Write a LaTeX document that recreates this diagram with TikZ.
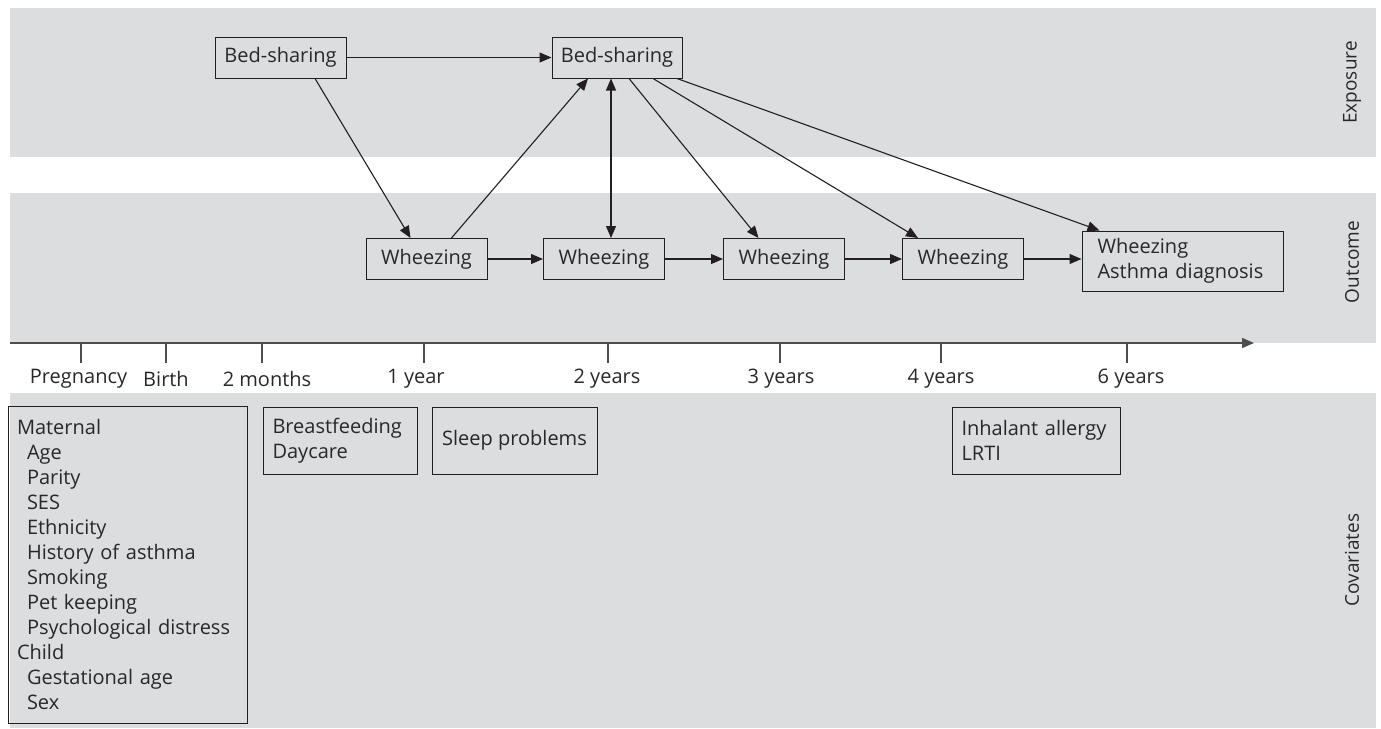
\documentclass[tikz,border=0pt]{standalone}
\usepackage{fontspec}
\setmainfont{Open Sans}
\usepackage{xcolor}
\usepackage{tikz}
\usetikzlibrary{arrows.meta}
\definecolor{bandgray}{RGB}{220, 221, 223}
\definecolor{inkgray}{RGB}{35, 31, 32}
\definecolor{textgray}{RGB}{40, 40, 40}

\begin{document}
\begin{tikzpicture}[x=1pt, y=-1pt, >={Triangle[length=12pt, width=10pt]},
    box/.style={draw=inkgray, line width=1pt, text=textgray, inner sep=0pt, font=\fontsize{20}{25}\selectfont},
    wbox/.style={box, minimum width=121pt, minimum height=41pt},
    listbox/.style={box, align=left},
    arr/.style={->, inkgray, line width=1.1pt},
    axislabel/.style={text=textgray, font=\fontsize{20}{25}\selectfont},
    sidelabel/.style={text=textgray, rotate=90, font=\fontsize{19}{22}\selectfont}]
    \useasboundingbox (0,0) rectangle (1381,728);
    \fill[bandgray] (10,8) rectangle (1376,157);
    \fill[bandgray] (10,193) rectangle (1376,343);
    \fill[bandgray] (10,393) rectangle (1376,728);

    \node[sidelabel] (lexposure) at (1352,82.5) {Exposure};
    \node[sidelabel] (loutcome) at (1352,262) {Outcome};
    \node[sidelabel] (lcovariates) at (1352,560) {Covariates};

    \coordinate (axstart) at (10,343);
    \coordinate (axend) at (1254,343);
    \draw[->, inkgray!80, line width=1.6pt] (axstart) -- (axend);
    \foreach \x/\lx/\t [count=\i] in {81/78.5/Pregnancy, 166/166/Birth, 262/267/2 months, 424/416/1 year, 608/607/2 years, 780/781/3 years, 941/941/4 years, 1127/1131/6 years} {
        \coordinate (tick\i) at (\x,343);
        \draw[inkgray!80, line width=1.3pt] (tick\i) -- ++(0,20);
        \node[axislabel] (lab\i) at (\lx,379) {\t};
    }

    \node[box, minimum width=131pt, minimum height=41pt] (bs1) at (280.5,57.5) {Bed-sharing};
    \node[box, minimum width=130pt, minimum height=41pt] (bs2) at (617,57.5) {Bed-sharing};

    \node[wbox] (w1) at (426.5,259) {Wheezing};
    \node[wbox] (w2) at (604,259) {Wheezing};
    \node[wbox] (w3) at (784,259) {Wheezing};
    \node[wbox] (w4) at (963,259) {Wheezing};
    \node[listbox, minimum width=201pt, minimum height=60pt, text width=170pt] (w5) at (1182.5,261) {Wheezing\\Asthma diagnosis};

    \draw[arr] (bs1) -- (bs2);
    \draw[arr] ([xshift=34.5pt]bs1.south) -- ([xshift=-16pt]w1.north);
    \draw[arr] ([xshift=25pt]w1.north) -- ([xshift=-29pt]bs2.south);
    \coordinate (vlink) at ([xshift=-6pt]bs2.south);
    \draw[arr, <->] (vlink) -- (vlink |- w2.north);
    \draw[arr] ([xshift=12pt]bs2.south) -- ([xshift=-25.5pt]w3.north);
    \draw[arr] ([xshift=36pt]bs2.south) -- ([xshift=-45pt]w4.north);
    \draw[arr] ([xshift=60pt]bs2.south) -- ([xshift=-83pt]w5.north);
    \foreach \a/\b in {w1/w2, w2/w3, w3/w4, w4/w5} \draw[arr] (\a.east) -- (\a.east -| \b.west);

    \node[listbox, minimum width=239pt, minimum height=317pt, text width=221pt] (maternal) at (127.5,564.5) {Maternal\\
        \hspace*{10pt}Age\\ \hspace*{10pt}Parity\\ \hspace*{10pt}SES\\ \hspace*{10pt}Ethnicity\\
        \hspace*{10pt}History of asthma\\ \hspace*{10pt}Smoking\\ \hspace*{10pt}Pet keeping\\
        \hspace*{10pt}Psychological distress\\ Child\\ \hspace*{10pt}Gestational age\\ \hspace*{10pt}Sex};
    \node[listbox, minimum width=154pt, minimum height=67pt, text width=135pt] (feeding) at (340,440.5) {Breastfeeding\\Daycare};
    \node[box, minimum width=165pt, minimum height=67pt] (sleep) at (514.5,440.5) {Sleep problems};
    \node[listbox, minimum width=168pt, minimum height=67pt, text width=149pt] (allergy) at (1036,440.5) {Inhalant allergy\\LRTI};
\end{tikzpicture}
\end{document}
